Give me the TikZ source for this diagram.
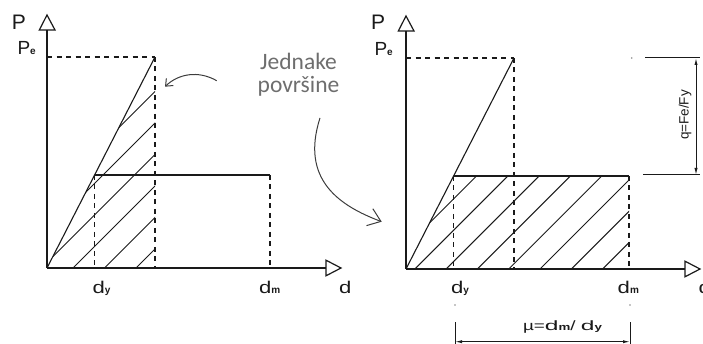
\documentclass[tikz,border=0pt]{standalone}
\usepackage{fontspec}
\usepackage{graphicx}
\setmainfont{Carlito}
\newfontfamily\cad{Liberation Sans}
\usetikzlibrary{arrows.meta}
\definecolor{ink}{HTML}{1A1A1A}
\definecolor{notegray}{HTML}{6E6E6E}
\definecolor{arrgray}{HTML}{3C3C3C}
\newcommand\gdd{\scalebox{1.3}[1]{d}}
\newcommand\subb[1]{{\fontsize{10}{10}\selectfont\bfseries #1}}
\newcommand\drawgraph[1]{%
  \coordinate (O#1) at (47,268);
  \coordinate (Pk#1) at (155,57);
  \coordinate (Yd#1) at (94.6,175);
  \coordinate (Mx#1) at (270,175);
  \coordinate (Ya#1) at (47,30);
  \coordinate (Xa#1) at (326,268);
  \coordinate (Pe#1) at (47,57);
  \coordinate (Bk#1) at (155,268);
  \coordinate (By#1) at (94.6,268);
  \coordinate (Bm#1) at (270,268);
  \draw[dsh] (Pe#1) -- (Pk#1);
  \draw[dsh] (Pk#1) -- (Bk#1);
  \draw[dsh] (Yd#1) -- (By#1);
  \draw[dsh] (Mx#1) -- (Bm#1);
  \draw[ln] (O#1) -- (Pk#1);
  \draw[ln] (Yd#1) -- (Mx#1);
  \draw[axis] (O#1) -- (Ya#1);
  \draw[axis] (O#1) -- (Xa#1);
  \draw[tri] (39.3,30) -- (55,30) -- (47,15) -- cycle;
  \draw[tri] (326,260.2) -- (326,275.8) -- (341,268) -- cycle;
}
\begin{document}
\begin{tikzpicture}[x=1pt,y=-1pt,
  ln/.style={line width=1.1pt, draw=ink},
  axis/.style={line width=1.3pt, draw=ink},
  dsh/.style={line width=1.1pt, draw=ink, dash pattern=on 5pt off 4.5pt},
  hatchline/.style={line width=1pt, draw=ink},
  tri/.style={line width=1.2pt, draw=ink, fill=white},
  note/.style={draw=arrgray, line width=1pt},
  notetext/.style={font=\fontsize{23.5}{24}\selectfont, text=notegray, inner sep=0pt},
  biglbl/.style={font=\cad\fontsize{21}{21}\selectfont, text=ink, inner sep=0pt},
  axlbl/.style={font=\cad\fontsize{17}{17}\selectfont, text=ink, inner sep=0pt},
  pelbl/.style={font=\cad\fontsize{19}{19}\selectfont, text=ink, inner sep=0pt},
  dimlbl/.style={font=\cad\fontsize{13.5}{13.5}\selectfont, text=ink, inner sep=0pt},
  dim/.style={line width=1pt, draw=ink},
  dimarrow/.style={line width=1pt, draw=ink, {Latex[length=7pt,width=3.2pt]}-{Latex[length=7pt,width=3.2pt]}},
  dotmark/.style={fill=black!45, draw=none}
]
\useasboundingbox (0,0) rectangle (703,344);

% ---------- left graph ----------
\begin{scope}
  \drawgraph{L}
  \begin{scope}
    \clip (OL) -- (PkL) -- (BkL) -- cycle;
    \foreach \xo in {-21.5,10,41.5,73,104.5,136}
      \draw[hatchline] (\xo,268) -- ++(250,-250);
  \end{scope}
  \node[biglbl, anchor=base west] (PL) at (11.8,30) {P};
  \node[pelbl, anchor=base west] (PeL) at (17.3,55) {P\subb{e}};
  \node[axlbl, anchor=base west] (dyL) at (92.5,293) {\gdd\subb{y}};
  \node[axlbl, anchor=base west] (dmL) at (259,293) {\gdd\subb{m}};
  \node[axlbl, anchor=base west] (dL) at (339,293) {\gdd};
\end{scope}

% ---------- right graph ----------
\begin{scope}[shift={(359,1)}]
  \drawgraph{R}
  \begin{scope}
    \clip (OR) -- (YdR) -- (MxR) -- (BmR) -- cycle;
    \foreach \xo in {24.5,55.8,87.1,118.4,149.7,181,212.3,243.6}
      \draw[hatchline] (\xo,268) -- ++(250,-250);
  \end{scope}
  \node[biglbl, anchor=base west] (PR) at (11.8,29) {P};
  \node[pelbl, anchor=base west] (PeR) at (15.3,55) {P\subb{e}};
  \node[axlbl, anchor=base west] (dyR) at (92,293) {\gdd\subb{y}};
  \node[axlbl, anchor=base west] (dmR) at (258.5,293) {\gdd\subb{m}};
  \node[axlbl, anchor=base west] (dR) at (339.5,293) {\gdd};
  \fill[dotmark] (272.7,57) circle (0.8);
\end{scope}

% ---------- note ----------
\node[notetext, anchor=base] (jed) at (298.5,69.3) {Jednake};
\node[notetext, anchor=base] (pov) at (298.5,92.5) {površine};
\coordinate (a1s) at (216.7,80.7);
\coordinate (a1e) at (165,86.7);
\draw[note, -{Straight Barb[length=6pt,width=10pt]}] (a1s) .. controls (198,70) and (178,74) .. (a1e);
\coordinate (a2s) at (320,118);
\coordinate (a2e) at (381.7,221.7);
\draw[note, -{Straight Barb[length=12pt,width=18pt]}] (a2s) .. controls (300,180) and (340,206) .. (a2e);

% ---------- q dimension ----------
\coordinate (qt) at (696,58);
\coordinate (qb) at (696,175);
\coordinate (qt0) at (645,58);
\coordinate (qt1) at (699.5,58);
\coordinate (qb0) at (643,175);
\coordinate (qb1) at (699.5,175);
\draw[dim] (qt0) -- (qt1);
\draw[dim] (qb0) -- (qb1);
\draw[dimarrow] (qt) -- (qb);
\node[dimlbl, rotate=90] (qlab) at (685,115) {q=Fe/Fy};

% ---------- mu dimension ----------
\coordinate (m1) at (455,341.7);
\coordinate (m2) at (630,341.7);
\coordinate (m1t) at (455,322);
\coordinate (m2t) at (630,322);
\draw[dim] (m1t) -- (455,343.5);
\draw[dim] (m2t) -- (630,343.5);
\draw[dimarrow] (m1) -- (m2);
\fill[dotmark] (455,305) circle (0.8);
\fill[dotmark] (630,305) circle (0.8);
\node[dimlbl, anchor=base] (mulab) at (562.5,330.5) {\scalebox{1.4}[1]{\textmu=\gdd{\fontsize{9.5}{9.5}\selectfont\bfseries m}/ \gdd{\fontsize{9.5}{9.5}\selectfont\bfseries y}}};
\end{tikzpicture}
\end{document}
